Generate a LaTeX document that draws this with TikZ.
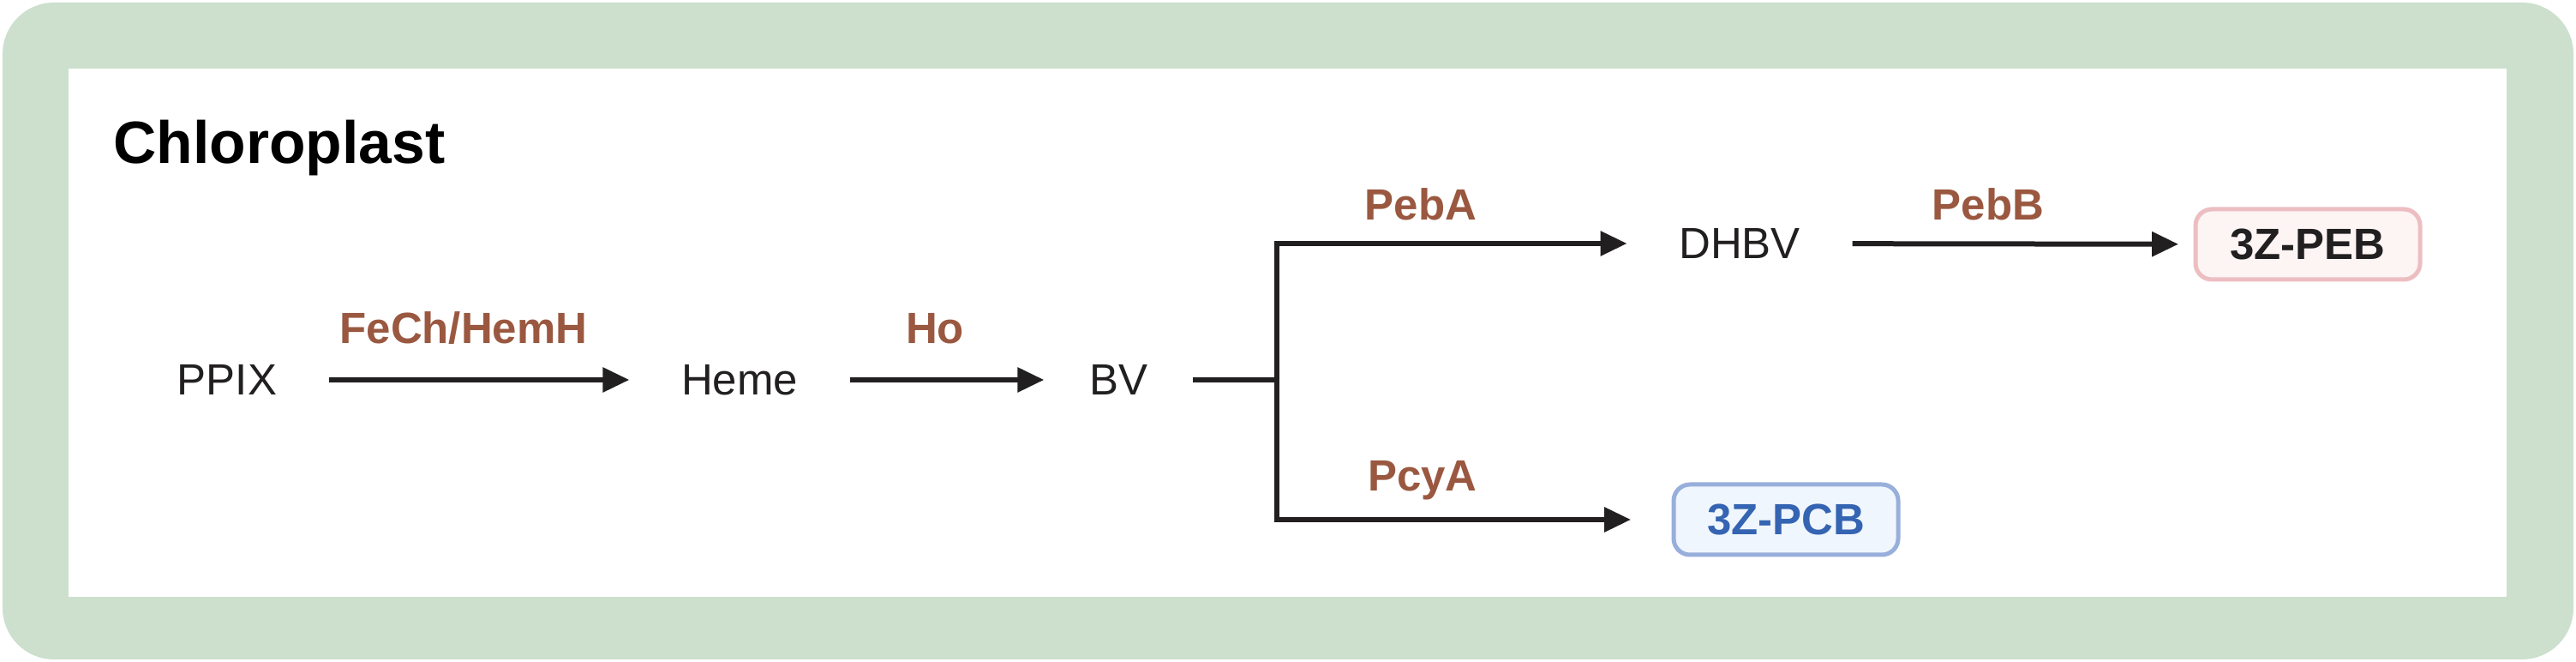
\documentclass[tikz,border=0pt]{standalone}
\usepackage{fontspec}
\setmainfont{Liberation Sans}
\usepackage{tikz}
\usetikzlibrary{arrows.meta}
\definecolor{plastgreen}{RGB}{204, 224, 205}
\definecolor{enzbrown}{RGB}{154, 88, 64}
\definecolor{linedark}{RGB}{34, 31, 32}
\definecolor{pebline}{RGB}{236, 190, 194}
\definecolor{pebfill}{RGB}{253, 244, 244}
\definecolor{pcbline}{RGB}{152, 175, 220}
\definecolor{pcbfill}{RGB}{240, 246, 253}
\definecolor{pcbtext}{RGB}{52, 100, 178}

\begin{document}
\begin{tikzpicture}[
	mol/.style={font=\fontsize{14.5}{17}\selectfont, text=linedark, inner sep=0pt, inner xsep=0.6cm},
	enz/.style={font=\fontsize{14.5}{17}\selectfont\bfseries, text=enzbrown, anchor=base},
	endbox/.style={font=\fontsize{14.5}{17}\selectfont\bfseries, rounded corners=0.19cm, line width=0.05cm, minimum width=2.62cm, minimum height=0.82cm},
	arr/.style={line width=0.06cm, draw=linedark, -{Triangle[length=0.31cm, width=0.28cm]}},
	bar/.style={line width=0.06cm, draw=linedark},
]
	\useasboundingbox (0,0) rectangle (30.06,7.72);
	\fill[plastgreen, rounded corners=0.6cm] (0.03,0.03) rectangle (30.03,7.69);
	\fill[white] (0.80,0.76) rectangle (29.25,6.92);
	\node[anchor=base west, inner sep=0pt, font=\fontsize{19.8}{24}\selectfont\bfseries] (title) at (1.32,5.81) {Chloroplast};

	\node[mol] (ppix) at (2.65,3.29) {PPIX};
	\node[mol] (heme) at (8.63,3.29) {Heme};
	\node[mol, inner xsep=0.52cm] (bv) at (13.05,3.29) {BV};
	\node[mol, inner xsep=0.6cm] (dhbv) at (20.30,4.88) {DHBV};
	\node[endbox, draw=pebline, fill=pebfill, text=linedark, outer sep=0.2cm] (peb) at (26.93,4.87) {3Z-PEB};
	\node[endbox, draw=pcbline, fill=pcbfill, text=pcbtext, outer sep=0.5cm] (pcb) at (20.84,1.66) {3Z-PCB};
	\coordinate (fork) at (14.90,3.29);

	\draw[arr] (ppix) -- (heme);
	\draw[arr] (heme) -- (bv);
	\draw[bar] (bv) -- (fork);
	\draw[arr] (fork) |- (dhbv);
	\draw[arr] (fork) |- (pcb);
	\draw[arr] (dhbv) -- (peb);

	\node[enz] (fech) at (5.41,3.71) {FeCh/HemH};
	\node[enz] (ho) at (10.91,3.71) {Ho};
	\node[enz] (peba) at (16.58,5.15) {PebA};
	\node[enz] (pebb) at (23.20,5.15) {PebB};
	\node[enz] (pcya) at (16.60,1.99) {PcyA};
\end{tikzpicture}
\end{document}
